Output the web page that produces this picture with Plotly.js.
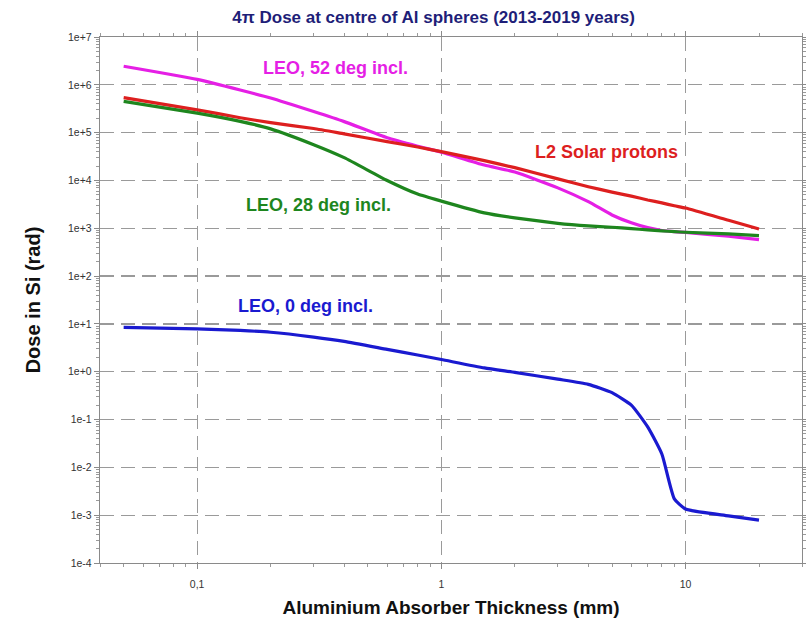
<!DOCTYPE html>
<html>
<head>
<meta charset="utf-8">
<script src="https://cdn.plot.ly/plotly-3.0.1.min.js"></script>
<style>html,body{margin:0;padding:0;background:#fff;}#chart{width:806px;height:624px;}</style>
</head>
<body>
<div id="chart"></div>
<script>
var thickness = [0.05, 0.1, 0.15, 0.2, 0.3, 0.4, 0.6, 0.8, 1, 1.5, 2, 3, 4, 5, 6, 7, 8, 9, 10, 15, 20];
var leo52 = [2.45e6, 1.3e6, 7.8e5, 5.3e5, 2.76e5, 1.7e5, 7.8e4, 5.2e4, 3.9e4, 2.1e4, 1.5e4, 7.0e3, 3.6e3, 1.9e3, 1.3e3, 1.03e3, 900, 850, 820, 680, 580];
var l2solar = [5.4e5, 3.0e5, 2.05e5, 1.62e5, 1.22e5, 9.4e4, 6.5e4, 5.0e4, 4.0e4, 2.6e4, 1.85e4, 1.08e4, 7.4e3, 5.7e3, 4.7e3, 3.9e3, 3.4e3, 2.95e3, 2.65e3, 1.47e3, 967];
var leo28 = [4.5e5, 2.55e5, 1.72e5, 1.2e5, 5.6e4, 3.0e4, 1.0e4, 5.2e3, 3.7e3, 2.1e3, 1.65e3, 1.27e3, 1.12e3, 1.05e3, 980, 930, 885, 850, 825, 760, 700];
var leo0 = [8.5, 7.9, 7.3, 6.7, 5.3, 4.3, 2.93, 2.24, 1.8, 1.2, 0.97, 0.70, 0.545, 0.365, 0.2, 0.07, 0.019, 0.0022, 0.00135, 0.00097, 0.00079];

var yTickVals = [1e7, 1e6, 1e5, 1e4, 1e3, 1e2, 1e1, 1e0, 1e-1, 1e-2, 1e-3, 1e-4];
var yTickText = ["1e+7", "1e+6", "1e+5", "1e+4", "1e+3", "1e+2", "1e+1", "1e+0", "1e-1", "1e-2", "1e-3", "1e-4"];
var xTickVals = [0.1, 1, 10];
var xTickText = ["0,1", "1", "10"];

var seriesNames = ["LEO, 52 deg incl.", "L2 Solar protons", "LEO, 28 deg incl.", "LEO, 0 deg incl."];
var seriesColors = ["#e51fe5", "#dd1f1f", "#1e861e", "#1a1ad0"];
var seriesValues = [leo52, l2solar, leo28, leo0];

var traces = seriesValues.map(function (v, i) {
  return {
    x: thickness, y: v, type: 'scatter', mode: 'lines', name: seriesNames[i],
    line: {color: seriesColors[i], width: 3.2, shape: 'spline', smoothing: 0.5}
  };
});

var labelPos = [[0.336, 0.941], [0.722, 0.781], [0.311, 0.681], [0.293, 0.489]];
var annotations = seriesNames.map(function (n, i) {
  return {
    text: '<b>' + n + '</b>', xref: 'paper', yref: 'paper',
    x: labelPos[i][0], y: labelPos[i][1], showarrow: false,
    xanchor: 'center', yanchor: 'middle',
    font: {family: 'Liberation Sans, Arial, sans-serif', size: 18, color: seriesColors[i]}
  };
});

var axisCommon = {
  showline: true, linecolor: '#8a8a8a', linewidth: 1.2, mirror: 'ticks',
  ticks: 'outside', ticklen: 5, tickcolor: '#8a8a8a', tickwidth: 1,
  showgrid: true, gridcolor: '#9a9a9a', gridwidth: 1.3, griddash: '14px,7px',
  zeroline: false,
  tickfont: {family: 'Liberation Sans, Arial, sans-serif', size: 10.5, color: '#333'},
  minor: {ticks: 'outside', ticklen: 3, tickcolor: '#9a9a9a', dtick: 'D1', showgrid: false}
};

var layout = {
  width: 806, height: 624,
  margin: {l: 100, r: 4, t: 37, b: 61},
  paper_bgcolor: '#fff', plot_bgcolor: '#fff',
  showlegend: false,
  title: {
    text: '<b>4\u03c0 Dose at centre of Al spheres (2013-2019 years)</b>',
    xref: 'container', x: 0.538, xanchor: 'center',
    yref: 'container', y: 0.972, yanchor: 'middle',
    font: {family: 'Liberation Sans, Arial, sans-serif', size: 17, color: '#1e1e78'}
  },
  xaxis: Object.assign({}, axisCommon, {
    type: 'log', range: [Math.log10(0.04), Math.log10(30)],
    tickmode: 'array', tickvals: xTickVals, ticktext: xTickText,
    ticklabelstandoff: 6,
    title: {text: '<b>Aluminium Absorber Thickness (mm)</b>', standoff: 12,
      font: {family: 'Liberation Sans, Arial, sans-serif', size: 19, color: '#111'}}
  }),
  yaxis: Object.assign({}, axisCommon, {
    type: 'log', range: [-4, 7],
    tickmode: 'array', tickvals: yTickVals, ticktext: yTickText,
    title: {text: '<b>Dose in Si (rad)</b>', standoff: 22,
      font: {family: 'Liberation Sans, Arial, sans-serif', size: 20, color: '#111'}}
  }),
  annotations: annotations
};

Plotly.newPlot('chart', traces, layout, {displayModeBar: false, staticPlot: true});
</script>
</body>
</html>
